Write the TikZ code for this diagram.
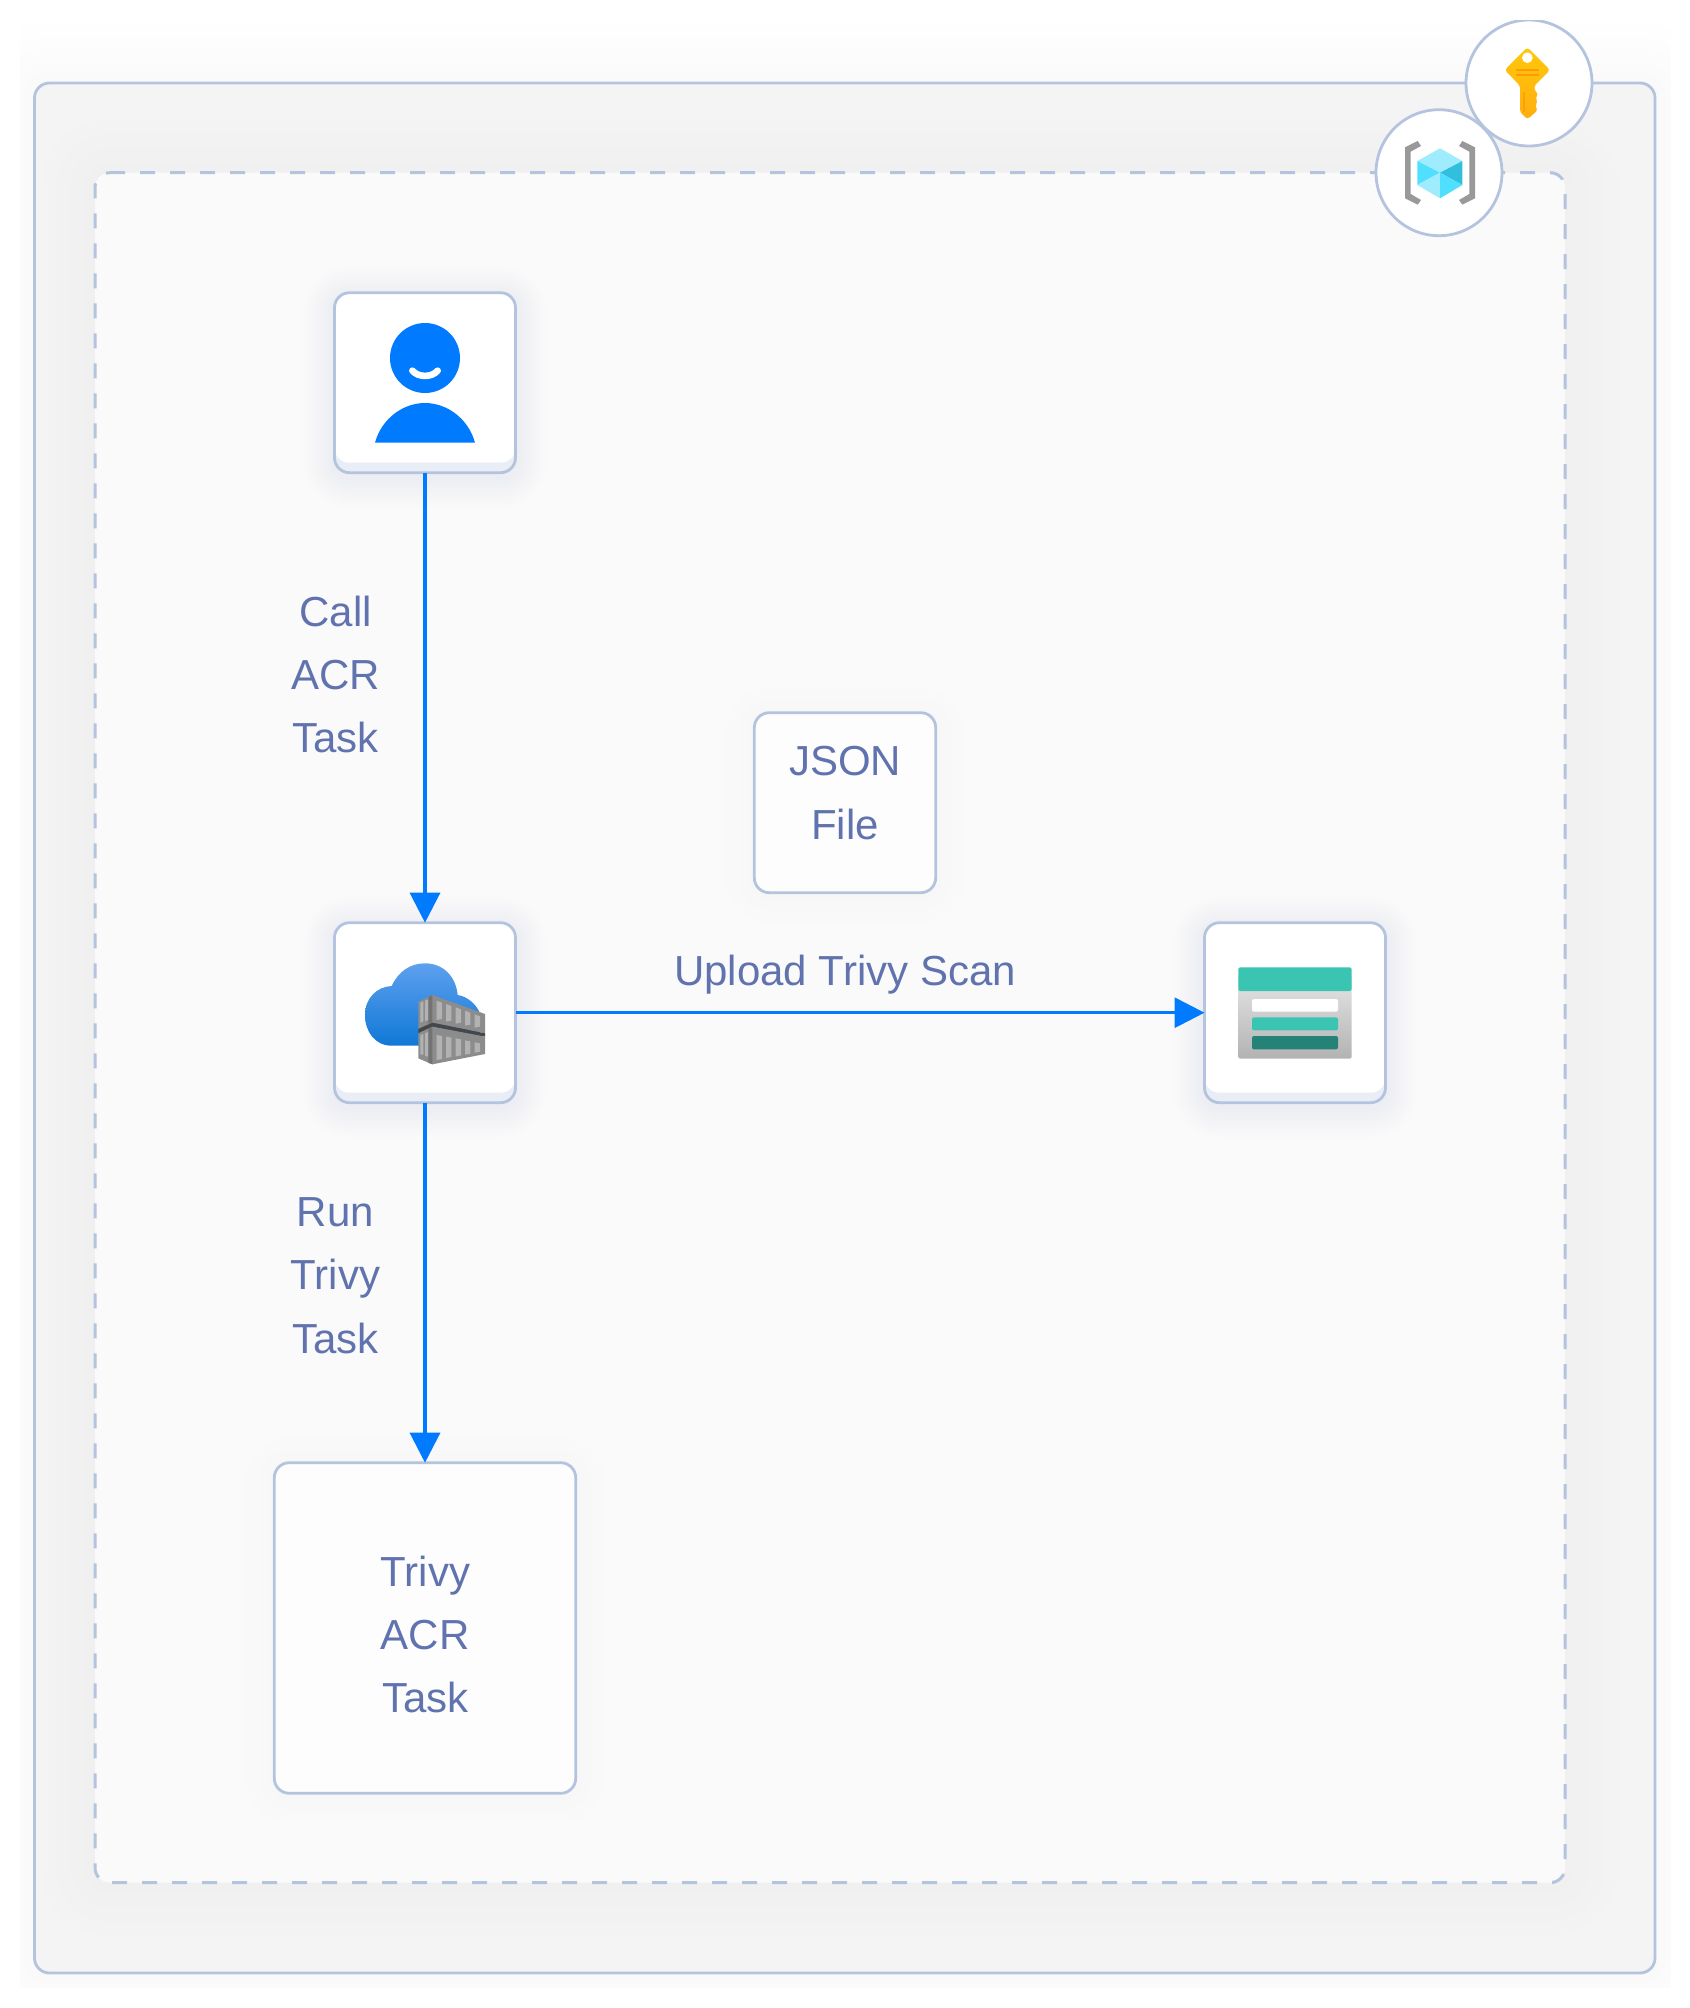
\documentclass[tikz,border=0pt]{standalone}
\usepackage{fontspec}
\setmainfont{Liberation Sans}
\usetikzlibrary{arrows.meta}
\definecolor{edgec}{HTML}{B4C3DE}
\definecolor{txtc}{HTML}{6173AE}
\definecolor{flow}{HTML}{007AFF}
\definecolor{band}{HTML}{E9EDF5}
\definecolor{outerf}{HTML}{F4F4F4}
\definecolor{outerg}{HTML}{F0F0F0}
\definecolor{pageg}{HTML}{FAFAFA}
\definecolor{innerf}{HTML}{FAFAFA}
\definecolor{boxf}{HTML}{FDFDFD}
\definecolor{nodeg}{HTML}{EDEEF3}
\definecolor{plaing}{HTML}{F7F7F7}
\definecolor{stbar}{HTML}{3AC4B2}
\definecolor{stdark}{HTML}{258277}
\definecolor{keya}{HTML}{FFC80A}
\definecolor{keyb}{HTML}{FFDC0A}
\definecolor{keyc}{HTML}{FFAE10}
\definecolor{keyd}{HTML}{FF9A05}
\definecolor{keye}{HTML}{FF9F0A}
\definecolor{cubeg}{HTML}{999999}
\definecolor{cubea}{HTML}{9FECFF}
\definecolor{cubeb}{HTML}{50E0FF}
\definecolor{cubec}{HTML}{32BEDD}
\definecolor{clouda}{HTML}{5EA0EF}
\definecolor{cloudb}{HTML}{0F78D6}
% nested opaque layers fading from colour #8 at the shape to #7 (the ground) at the rim
\newcommand{\softshadow}[8]{%
  \foreach \k in {12,11,...,1}{%
    \pgfmathsetmacro\sp{#6*\k/12}%
    \pgfmathsetmacro\rr{(#5+\sp)*0.5}%
    \pgfmathsetmacro\mixp{100-(\k-1)*100/12}%
    \fill[#8!\mixp!#7,rounded corners=\rr pt] ({#1-\sp},{#2-\sp}) rectangle ({#3+\sp},{#4+\sp});
  }%
}
\tikzset{
  panel/.style={draw=edgec,line width=1.4pt,rounded corners=7.5pt,outer sep=0pt,inner sep=0pt},
  outerbox/.style={panel,fill=outerf,minimum width=810.25pt,minimum height=945pt},
  innerbox/.style={fill=innerf,rounded corners=7.5pt,outer sep=0pt,inner sep=0pt,minimum width=735pt,minimum height=855pt},
  dashedrim/.style={draw=edgec,line width=1.5pt,rounded corners=7.5pt,dash pattern=on 7.5pt off 7.5pt},
  iconbox/.style={panel,fill=band,minimum width=90.5pt,minimum height=90pt,
    path picture={\fill[white,rounded corners=7.5pt] ([yshift=2pt]path picture bounding box.north west) rectangle ([yshift=5pt]path picture bounding box.south east);}},
  plainbox/.style={panel,fill=boxf},
  lbl/.style={font=\fontsize{21}{31.6}\selectfont,text=txtc,align=center},
  disc/.style={circle,draw=edgec,line width=1.4pt,fill=white,minimum size=63pt,inner sep=0pt,outer sep=0pt},
  flowline/.style={draw=flow,line width=1.6pt,-{Triangle[length=15pt,width=15pt]}},
  tilez/.style={shift={(#1)},scale=1/3}
}
\begin{document}
\begin{tikzpicture}[x=0.5pt,y=-0.5pt]
\useasboundingbox (0,0) rectangle (1690,2008);
\fill[white] (0,0) rectangle (1690,2008);
\begin{scope}
\clip (20,20) rectangle (1670,1987);
\softshadow{34.5}{83}{1655}{1973}{15}{60}{white}{pageg}
\end{scope}
\node[outerbox] (outer) at (844.75,1028) {};
\begin{scope}
\softshadow{95}{172.7}{1565}{1882.7}{15}{58}{outerf}{outerg}
\end{scope}
\node[innerbox] (inner) at (830,1027.7) {};
\draw[dashedrim] ([xshift=7.5pt]inner.north west) -- (inner.north east) -- (inner.south east) -- (inner.south west) -- (inner.north west) -- ([xshift=7.5pt]inner.north west);
% node shadows
\softshadow{334.5}{297}{515.5}{477}{15}{30}{innerf}{nodeg}
\softshadow{334.5}{927}{515.5}{1107}{15}{30}{innerf}{nodeg}
\softshadow{1204.3}{927}{1385.7}{1107}{15}{30}{innerf}{nodeg}
\softshadow{754.3}{715}{935.7}{895}{15}{30}{innerf}{plaing}
\softshadow{274.3}{1465}{575.7}{1795}{15}{30}{innerf}{plaing}
% nodes
\node[iconbox] (user) at (425,382.7) {};
\node[iconbox] (acr) at (425,1012.7) {};
\node[iconbox] (storage) at (1295,1012.7) {};
\node[plainbox,minimum width=90.7pt,minimum height=90pt] (json) at (845,802.7) {};
\node[plainbox,minimum width=150.7pt,minimum height=165.3pt] (trivy) at (425,1628) {};
\begin{scope}
\clip (0,20) rectangle (1690,2008);
\node[disc] (keydisc) at (1529,83) {};
\end{scope}
\node[disc] (cubedisc) at (1439,172.7) {};
% person icon
\begin{scope}[tilez={320,280}]
\fill[flow] (315,234) circle[radius=105];
\draw[white,line width=3.3pt,line cap=round] (277,272) .. controls (295,293) and (335,293) .. (353,272);
\fill[flow] (165,488) .. controls (185,415) and (250,369) .. (315,369) .. controls (380,369) and (445,415) .. (465,488) -- cycle;
\end{scope}
% registry icon
\begin{scope}[tilez={320,880}]
\shade[top color=clouda,bottom color=cloudb]
 (215,497) .. controls (165,497) and (135,455) .. (135,405) .. controls (135,355) and (170,320) .. (215,318) .. controls (235,275) and (270,250) .. (315,250) .. controls (370,250) and (408,290) .. (413,345) .. controls (445,350) and (470,375) .. (480,400) -- (480,497) -- cycle;
\fill[black!45] (295,365) -- (337,345) -- (495,402) -- (495,460) -- (337,428) -- (295,447) -- cycle;
\fill[black!72] (295,447) -- (337,428) -- (495,460) -- (495,470) -- (337,440) -- (295,460) -- cycle;
\fill[black!45] (295,460) -- (337,440) -- (495,470) -- (495,522) -- (337,553) -- (295,535) -- cycle;
\fill[black!55] (325,351) -- (337,345) -- (337,428) -- (325,434) -- cycle;
\fill[black!55] (325,446) -- (337,440) -- (337,553) -- (325,548) -- cycle;
\foreach \xa/\ya/\yb/\yc/\yd in {350/362/420/465/540,378/372/425/470/534,407/382/431/475/529,435/392/437/481/524,464/403/443/487/518}{
  \fill[black!30] (\xa,\ya) -- (\xa+16,\ya+6) -- (\xa+16,\yb-3) -- (\xa,\yb) -- cycle;
  \fill[black!30] (\xa,\yc) -- (\xa+16,\yc+3) -- (\xa+16,\yd-3) -- (\xa,\yd) -- cycle;
}
\fill[black!30] (301,368) -- (310,364) -- (310,424) -- (301,428) -- cycle;
\fill[black!30] (315,362) -- (324,358) -- (324,420) -- (315,424) -- cycle;
\fill[black!30] (301,466) -- (310,462) -- (310,524) -- (301,524) -- cycle;
\fill[black!30] (315,460) -- (324,456) -- (324,530) -- (315,528) -- cycle;
\end{scope}
% storage icon
\begin{scope}[tilez={1150,900}]
\shade[top color=black!10,bottom color=black!30,rounded corners=1pt] (265,225) rectangle (605,476);
\fill[stbar,rounded corners=1pt] (265,202) rectangle (605,273);
\fill[white,rounded corners=1pt] (306,297) rectangle (564,335);
\fill[stbar,rounded corners=1pt] (306,352) rectangle (564,391);
\fill[stdark,rounded corners=1pt] (306,408) rectangle (564,448);
\end{scope}
% key icon
\begin{scope}[tilez={1490,40}]
\shade[top color=keya,middle color=keyb,bottom color=keyc,rounded corners=1.5pt]
 (112,22) -- (180,90) -- (133,137) -- (133,152) -- (146,162) -- (135,172) -- (144,185) -- (134,197) -- (144,210) -- (112,238) -- (90,216) -- (90,137) -- (44,90) -- cycle;
\fill[white] (112,53) circle[radius=16];
\fill[keyd] (77,87) rectangle (147,94);
\fill[keyd] (77,102) rectangle (147,109);
\fill[keye] (99,155) rectangle (104,215);
\end{scope}
% cube icon
\begin{scope}[tilez={1395,130}]
\fill[cubeg] (30,52) -- (68,33) -- (78,48) -- (47,65) -- (47,192) -- (78,210) -- (68,224) -- (30,205) -- cycle;
\fill[cubeg] (240,52) -- (202,33) -- (192,48) -- (223,65) -- (223,192) -- (192,210) -- (202,224) -- (240,205) -- cycle;
\fill[cubea] (135,55) -- (202,93) -- (135,128) -- (67,93) -- cycle;
\fill[cubeb] (67,93) -- (135,128) -- (67,165) -- cycle;
\fill[cubec] (202,93) -- (135,128) -- (202,165) -- cycle;
\fill[cubea] (67,165) -- (135,128) -- (135,205) -- cycle;
\fill[cubeb] (202,165) -- (135,128) -- (135,205) -- cycle;
\end{scope}
% connectors
\draw[flowline] (user.south) -- (acr.north);
\draw[flowline] (acr.south) -- (trivy.north);
\draw[flowline] (acr.east) -- (storage.west);
% labels
\node[lbl,anchor=base] (l1) at (335.5,752.6) {Call\\ACR\\Task};
\node[lbl,anchor=base] (l2) at (335.5,1353) {Run\\Trivy\\Task};
\node[lbl,anchor=base] (l3) at (845,985.8) {Upload Trivy Scan};
\node[lbl,anchor=base] (jtext) at (845,839) {JSON\\File};
\node[lbl,anchor=base] (ttext) at (425.3,1712.6) {Trivy\\ACR\\Task};
\end{tikzpicture}
\end{document}
